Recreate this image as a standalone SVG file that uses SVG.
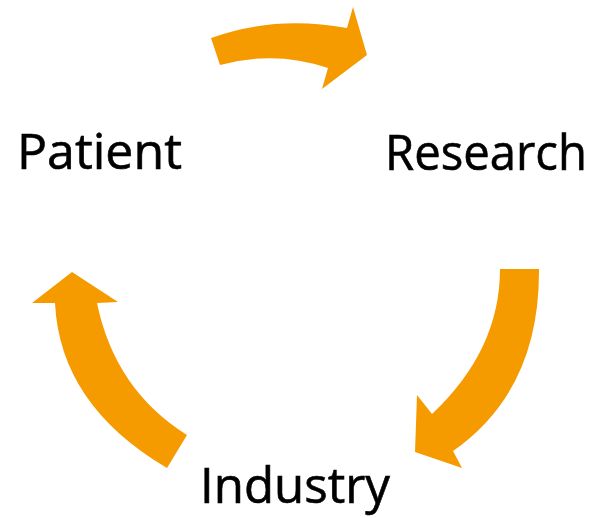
<svg xmlns="http://www.w3.org/2000/svg" width="598" height="518" viewBox="0 0 598 518">
<style>
.arrow{fill:#F59B00;stroke:none}
.lbl{font-family:"Open Sans","Liberation Sans",sans-serif;font-size:50px;fill:#000;stroke:#000;stroke-width:0.6}
</style>
<rect width="598" height="518" fill="#fff"/>
<g id="connectors">
<path class="arrow" d="M211,38 Q275,15 347,28 L353,7 L367,55 L322,89 L328,68 Q275,50 220,65 Z"/>
<path class="arrow" d="M500,269 L539,269 Q540,390 453,451 L462,468 L415,452 L417,395 L432,414 Q500,350 500,269 Z"/>
<path class="arrow" d="M72,272 L118,302 L97,303 Q115,390 187,435 L167,468 Q60,405 55,303 L32,303 Z"/>
</g>
<g id="patient"><text class="lbl" x="17" y="169" textLength="165" lengthAdjust="spacingAndGlyphs">Patient</text></g>
<g id="research"><text class="lbl" x="385" y="170" textLength="202" lengthAdjust="spacingAndGlyphs">Research</text></g>
<g id="industry"><text class="lbl" x="200" y="503" textLength="190" lengthAdjust="spacingAndGlyphs">Industry</text></g>
</svg>
